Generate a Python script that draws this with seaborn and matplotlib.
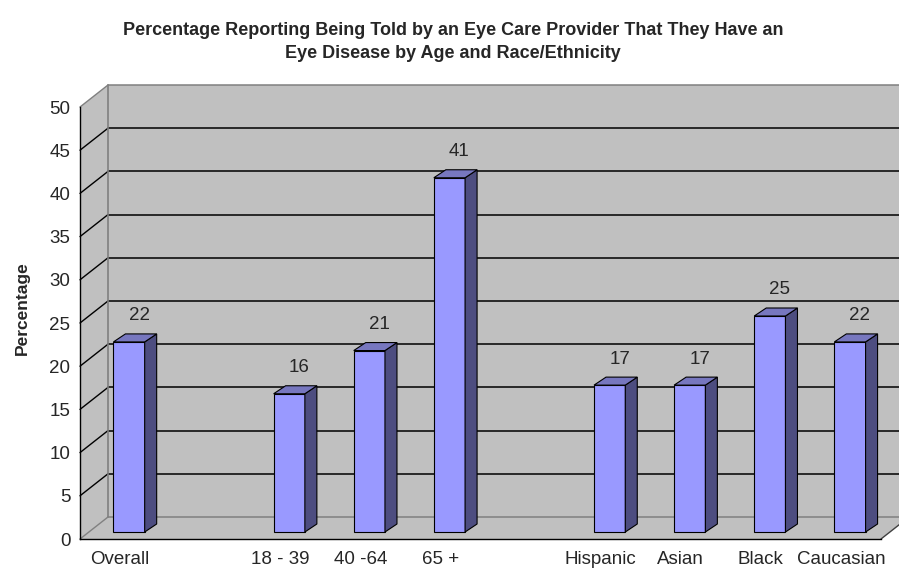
import matplotlib
matplotlib.use("Agg")
import matplotlib.pyplot as plt
import seaborn as sns
import pandas as pd
import numpy as np
from matplotlib.transforms import ScaledTranslation, IdentityTransform
from matplotlib.patches import Polygon
from matplotlib.lines import Line2D

# ---- data ----
categories = ["Overall", " ", "18 - 39", "40 -64", "65 +", "  ",
              "Hispanic", "Asian", "Black", "Caucasian"]
values = [22, np.nan, 16, 21, 41, np.nan, 17, 17, 25, 22]
yticks = [0, 5, 10, 15, 20, 25, 30, 35, 40, 45, 50]
title = ("Percentage Reporting Being Told by an Eye Care Provider That They Have an\n"
         "Eye Disease by Age and Race/Ethnicity")
ylabel = "Percentage"

df = pd.DataFrame({"category": categories, "value": values})

sns.set_style("white")
plt.rcParams["font.family"] = ["Liberation Sans", "DejaVu Sans"]

W, H = 899, 569
fig = plt.figure(figsize=(W / 100, H / 100), dpi=100)
fig.patch.set_facecolor("white")
ax = fig.add_axes([80 / W, (H - 539) / H, (881 - 80) / W, (539 - 107) / H])
ax.patch.set_visible(False)

sns.barplot(data=df, x="category", y="value", order=categories,
            color="#9999FF", saturation=1, width=0.39,
            edgecolor="black", linewidth=0.8, ax=ax, zorder=4, errorbar=None)

ax.set_xlim(-0.5, len(categories) - 0.5)
ax.set_ylim(0, 50)
ax.set_yticks(yticks)
ax.set_ylabel(ylabel, fontsize=12.5, fontweight="bold")
ax.yaxis.set_label_coords(-(80 - 30) / (881 - 80), (539 - 308) / (539 - 107))
ax.set_xlabel("")
ax.tick_params(axis="y", labelsize=13.5, length=4, width=1, pad=3, color="black")
ax.tick_params(axis="x", which="major", labelsize=13.5, length=0, pad=9)
ax.set_xticks(np.arange(-0.5, len(categories), 1.0), minor=True)
ax.tick_params(axis="x", which="minor", length=5, width=1, color="black")
for s in ["top", "right"]:
    ax.spines[s].set_visible(False)
for s in ["left", "bottom"]:
    ax.spines[s].set_color("black")
    ax.spines[s].set_linewidth(1)
    ax.spines[s].set_zorder(6)

fig.canvas.draw()

BX, BY = 28, 22      # depth of the back wall (pixels)
FX, FY = 9, 7        # front face offset of bars
DX, DY = 12, 8       # bar depth

def P(x, y, dx=0.0, dy=0.0):
    px, py = ax.transData.transform((x, y))
    return (px + dx, py + dy)

x0, x1 = -0.5, len(categories) - 0.5
wall = "#C0C0C0"
ident = IdentityTransform()

def poly(pts, fc, ec="none", lw=0, z=0):
    p = Polygon(pts, closed=True, facecolor=fc, edgecolor=ec, linewidth=lw,
                transform=ident, zorder=z, clip_on=False)
    ax.add_artist(p)

def line(a, b, c="black", lw=1.0, z=1):
    l = Line2D([a[0], b[0]], [a[1], b[1]], color=c, linewidth=lw,
               transform=ident, zorder=z, clip_on=False)
    ax.add_artist(l)

# back wall, left wall, floor
poly([P(x0, 0, BX, BY), P(x1, 0, BX, BY), P(x1, 50, BX, BY), P(x0, 50, BX, BY)], wall)
poly([P(x0, 0), P(x0, 0, BX, BY), P(x0, 50, BX, BY), P(x0, 50)], wall)
poly([P(x0, 0), P(x1, 0), P(x1, 0, BX, BY), P(x0, 0, BX, BY)], wall)

for v in yticks:
    c = "#808080" if v in (0, 50) else "black"
    line(P(x0, v, BX, BY), P(x1, v, BX, BY), c=c, lw=1.1)
    line(P(x0, v), P(x0, v, BX, BY), c=c, lw=1.0)
line(P(x0, 0, BX, BY), P(x0, 50, BX, BY), c="#808080", lw=1.2)
line(P(x1, 0), P(x1, 0, BX, BY), c="#404040", lw=1.0)

# 3D bars
off = ScaledTranslation(FX / 100, FY / 100, fig.dpi_scale_trans)
for patch in ax.patches:
    if not isinstance(patch, matplotlib.patches.Rectangle):
        continue
    h = patch.get_height()
    if not np.isfinite(h) or h == 0:
        continue
    xl = patch.get_x()
    xr = xl + patch.get_width()
    patch.set_transform(ax.transData + off)
    patch.set_clip_on(False)
    side = [P(xr, 0, FX, FY), P(xr, 0, FX + DX, FY + DY),
            P(xr, h, FX + DX, FY + DY), P(xr, h, FX, FY)]
    top = [P(xl, h, FX, FY), P(xr, h, FX, FY),
           P(xr, h, FX + DX, FY + DY), P(xl, h, FX + DX, FY + DY)]
    poly(side, "#4D4D80", ec="black", lw=0.8, z=4)
    poly(top, "#7777BF", ec="black", lw=0.8, z=4)

for i, v in enumerate(values):
    if np.isfinite(v):
        ax.annotate(f"{v:g}", (i, v), xytext=(19, 33), textcoords="offset pixels",
                    ha="center", va="center", fontsize=13.5, zorder=7,
                    annotation_clip=False)

fig.text(453 / W, 1 - 42 / H, title, ha="center", va="center",
         fontsize=13, fontweight="bold", linespacing=1.42)

fig.savefig("out.png", dpi=100)
